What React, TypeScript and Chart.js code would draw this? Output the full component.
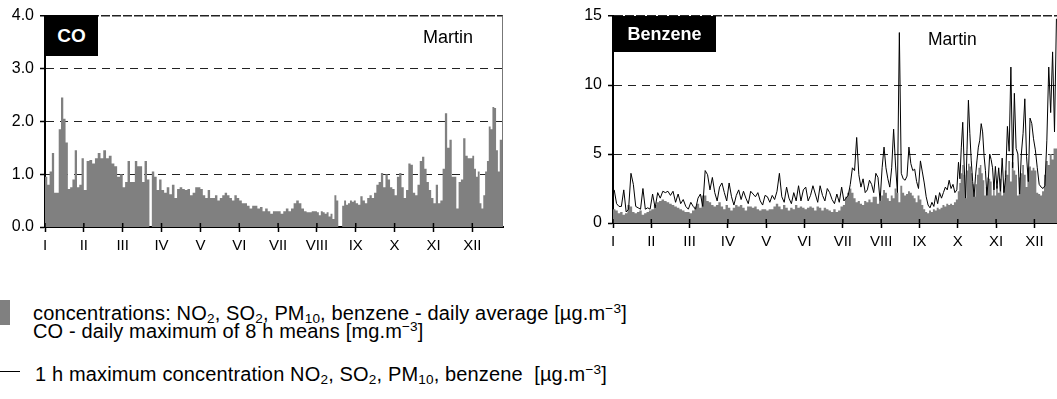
import React, { useEffect, useRef } from "react";
import { Chart, registerables } from "chart.js";

Chart.register(...registerables);

// ---------- data ----------
const MONTHS = ["I", "II", "III", "IV", "V", "VI", "VII", "VIII", "IX", "X", "XI", "XII"];

// CO - daily maximum of 8 h means [mg.m-3], values per month (0 = missing)
const CO_JAN = [1.25, 0.95, 0.8, 1.05, 1.4, 0.65, 0.65, 1.85, 2.45, 2.05, 1.6, 0.72, 0.75, 0.9, 1.45, 0.75, 0.8];
const CO_FEB = [1.3, 0.7, 1.25, 1.27, 1.2, 1.3, 1.4, 1.3, 1.45, 1.3, 1.35, 1.2, 1.15, 0.95];
const CO_MAR = [1.0, 0.75, 0.85, 1.25, 0.85, 0.85, 1.25, 1.15, 1.15, 0.85, 1.25, 0.9, 0, 1.05, 0.95, 0.7];
const CO_APR = [0.9, 0.7, 0.65, 0.75, 0.62, 0.8, 0.55, 0.72, 0.75, 0.72, 0.7, 0.72, 0.6, 0.65, 0.75];
const CO_MAY = [0.75, 0.72, 0.6, 0.55, 0.7, 0.55, 0.55, 0.6, 0.5, 0.55, 0.6, 0.65, 0.6, 0.55, 0.5, 0.6];
const CO_JUN = [0.55, 0.5, 0.45, 0.45, 0.4, 0.35, 0.4, 0.4, 0.35, 0.38, 0.3, 0.35, 0.3, 0.25, 0.3];
const CO_JUL = [0.3, 0.3, 0.25, 0.3, 0.35, 0.3, 0.35, 0.45, 0.5, 0.45, 0.35, 0.3, 0.28, 0.28, 0.3];
const CO_AUG = [0.3, 0.28, 0.22, 0.3, 0.28, 0.25, 0.28, 0.2, 0.25, 0.15, 0.6, 0.5, 0, 0, 0.4, 0.5, 0.42, 0.45, 0.5, 0.48];
const CO_SEP = [0.5, 0.45, 0.42, 0.58, 0.5, 0.45, 0.55, 0.6, 0.55, 0.65, 0.8, 0.85, 1.02, 0.75, 1.0, 0.9, 0.75];
const CO_OCT = [0.72, 0.6, 0.95, 1.02, 0.75, 0.55, 0.7, 1.2, 1.18, 0.65, 0.6, 0.8, 1.25, 1.33, 1.1, 0.85, 0.7];
const CO_NOV = [0.55, 0.45, 0.8, 0.45, 0.5, 1.1, 2.15, 1.5, 1.65, 0.95, 0.95, 0.35, 0.85, 0.9, 1.68, 1.35, 1.3];
const CO_DEC = [1.3, 1.35, 1.1, 0.95, 1.05, 0.45, 0.35, 0.6, 1.05, 1.25, 1.9, 1.85, 2.27, 2.25, 1.45, 1.05, 1.65];
const CO_MONTHS = [CO_JAN, CO_FEB, CO_MAR, CO_APR, CO_MAY, CO_JUN, CO_JUL, CO_AUG, CO_SEP, CO_OCT, CO_NOV, CO_DEC];

// Benzene - daily average [ug.m-3]
const BZ_AVG_JAN = [1.1, 1.0, 0.9, 0.7, 0.8, 0.6, 0.7, 1.3, 1.2, 0.8, 0.7, 0.8, 0.9, 0.6, 0.7, 0.8];
const BZ_AVG_FEB = [0.9, 1.0, 1.3, 1.5, 1.6, 1.7, 1.6, 1.5, 1.4, 1.3, 1.2, 1.1, 1.0, 0.9, 0.8];
const BZ_AVG_MAR = [0.8, 0.7, 0.9, 1.2, 1.4, 1.1, 2.0, 2.0, 1.6, 1.5, 1.3, 1.2, 1.3, 1.5, 1.2, 1.0];
const BZ_AVG_APR = [1.3, 1.1, 0.9, 1.1, 1.3, 1.2, 1.3, 1.1, 0.9, 1.2, 1.2, 1.1, 1.2, 1.0, 0.9, 1.0];
const BZ_AVG_MAY = [1.0, 0.9, 1.0, 1.0, 1.2, 1.4, 1.2, 1.0, 1.3, 1.1, 0.9, 1.1, 1.0, 1.3, 1.1, 1.2];
const BZ_AVG_JUN = [1.1, 1.0, 1.1, 1.2, 1.1, 0.9, 1.2, 1.1, 0.9, 1.1, 1.0, 0.9, 0.8, 1.0, 0.8, 0.9];
const BZ_AVG_JUL = [1.2, 1.3, 1.9, 2.2, 2.5, 2.2, 1.8, 1.5, 1.6, 1.4, 1.3, 1.6, 1.5, 1.7, 1.5, 1.9, 1.9, 1.4];
const BZ_AVG_AUG = [1.6, 2.0, 2.4, 2.2, 1.8, 1.6, 2.0, 1.8, 2.5, 2.2, 1.5, 2.7, 2.2, 2.0, 2.1, 2.3, 2.2, 2.0, 1.8, 1.5];
const BZ_AVG_SEP = [2.0, 1.7, 1.3, 1.0, 0.8, 0.7, 0.9, 0.8, 1.0, 0.9, 1.1, 1.0, 1.1, 1.3, 1.2, 1.4, 1.3, 1.4, 1.3, 1.5];
const BZ_AVG_OCT = [1.7, 2.3, 2.9, 3.6, 4.2, 3.5, 1.8, 3.8, 4.3, 4.1, 3.6, 2.8, 1.9, 2.8, 3.5, 4.0, 4.2, 3.6, 3.1, 2.0, 2.6, 3.3, 3.2, 3.0, 2.0, 3.0];
const BZ_AVG_NOV = [2.0, 2.7, 2.2, 3.2, 2.0, 2.7, 3.8, 3.5, 4.5, 3.0, 4.4, 3.8, 3.5, 2.0, 3.3, 3.6, 4.2, 3.5, 2.6, 4.0, 4.1, 3.8];
const BZ_AVG_DEC = [4.0, 3.8, 2.2, 2.1, 2.0, 2.3, 3.5, 4.5, 4.2, 5.0, 4.6, 5.4];
const BZ_AVG_MONTHS = [BZ_AVG_JAN, BZ_AVG_FEB, BZ_AVG_MAR, BZ_AVG_APR, BZ_AVG_MAY, BZ_AVG_JUN, BZ_AVG_JUL, BZ_AVG_AUG, BZ_AVG_SEP, BZ_AVG_OCT, BZ_AVG_NOV, BZ_AVG_DEC];

// Benzene - 1 h maximum concentration [ug.m-3]
const BZ_MAX_JAN = [2.4, 1.4, 1.2, 1.2, 2.4, 0.8, 1.0, 3.6, 2.8, 1.2, 1.1, 1.0, 2.5, 1.0, 1.1, 1.0];
const BZ_MAX_FEB = [2.1, 1.1, 2.2, 1.8, 2.3, 2.2, 2.3, 2.0, 2.3, 1.5, 2.1, 1.4, 1.7, 1.2, 1.0];
const BZ_MAX_MAR = [1.5, 1.2, 1.0, 1.8, 2.1, 1.2, 3.8, 3.5, 2.4, 3.3, 2.2, 1.6, 2.6, 2.9, 2.2, 1.6];
const BZ_MAX_APR = [2.9, 1.9, 1.3, 2.0, 2.4, 1.7, 2.3, 1.8, 1.4, 2.3, 2.1, 1.9, 2.2, 1.6, 1.3, 2.0];
const BZ_MAX_MAY = [1.9, 1.5, 2.0, 1.7, 2.3, 3.6, 1.9, 1.5, 2.6, 1.8, 1.4, 2.2, 1.6, 2.7, 1.6, 2.4];
const BZ_MAX_JUN = [2.6, 1.6, 2.0, 2.7, 2.1, 1.5, 2.7, 2.0, 1.6, 2.5, 2.2, 1.7, 1.4, 2.1, 1.5, 2.6];
const BZ_MAX_JUL = [1.6, 1.8, 2.0, 2.8, 4.0, 3.8, 6.2, 3.5, 2.6, 3.2, 2.2, 2.4, 3.1, 2.8, 2.2, 3.6, 3.3, 1.6];
const BZ_MAX_AUG = [4.0, 5.5, 4.0, 3.2, 2.6, 4.0, 6.8, 4.2, 2.2, 13.8, 3.6, 3.2, 3.1, 3.4, 5.5, 4.3, 3.8, 3.9, 3.0, 2.5];
const BZ_MAX_SEP = [4.5, 3.7, 2.9, 1.9, 1.3, 1.1, 1.5, 1.2, 2.0, 1.4, 2.2, 1.8, 2.2, 2.6, 2.4, 3.1, 2.5, 2.8, 2.2, 2.4];
const BZ_MAX_OCT = [4.4, 3.2, 5.5, 7.3, 4.2, 1.8, 5.3, 8.9, 6.5, 4.5, 3.0, 1.9, 3.4, 4.5, 5.5, 6.0, 7.2, 6.6, 4.9, 3.8, 2.0, 3.1, 5.0, 4.6, 4.0, 2.4, 4.1];
const BZ_MAX_NOV = [2.5, 4.0, 2.3, 4.7, 2.2, 3.3, 7.0, 5.2, 11.3, 4.0, 9.4, 5.4, 5.0, 2.1, 5.0, 6.5, 9.0, 4.8, 3.0, 7.6, 7.2, 6.1];
const BZ_MAX_DEC = [5.3, 4.0, 2.8, 2.6, 2.5, 2.7, 6.0, 11.3, 8.0, 12.4, 6.6, 14.8];
const BZ_MAX_MONTHS = [BZ_MAX_JAN, BZ_MAX_FEB, BZ_MAX_MAR, BZ_MAX_APR, BZ_MAX_MAY, BZ_MAX_JUN, BZ_MAX_JUL, BZ_MAX_AUG, BZ_MAX_SEP, BZ_MAX_OCT, BZ_MAX_NOV, BZ_MAX_DEC];

const CO_Y_TICKS = [0, 1, 2, 3, 4];
const BZ_Y_TICKS = [0, 5, 10, 15];

// visible extent of the time axis (in months from 1 Jan)
const CO_X_MAX = 11.79;
const BZ_X_MAX = 11.59;

// ---------- helpers ----------
const FONT = "'Liberation Sans', Arial, Helvetica, sans-serif";
const GREY = "#808080";

type Pt = { x: number; y: number };

function stepPoints(months: number[][], xMax: number): Pt[] {
  const pts: Pt[] = [];
  months.forEach((vals, m) => {
    const span = m === 11 ? xMax - 11 + 0.01 : 1;
    vals.forEach((v, i) => pts.push({ x: m + (i * span) / vals.length, y: v }));
  });
  const last = months[11];
  pts.push({ x: xMax + 0.01, y: last[last.length - 1] });
  return pts;
}

function linePoints(months: number[][], xMax: number): Pt[] {
  const pts: Pt[] = [];
  months.forEach((vals, m) => {
    const span = m === 11 ? xMax - 11 + 0.01 : 1;
    vals.forEach((v, i) => pts.push({ x: m + ((i + 0.5) * span) / vals.length, y: v }));
  });
  return pts;
}

const framePlugin = {
  id: "frame",
  afterDraw(chart: any, _args: any, opts: any) {
    const { ctx, chartArea } = chart;
    const { right, bottom, top } = chartArea;
    const xs = chart.scales.x;
    ctx.save();
    ctx.strokeStyle = "#000";
    ctx.lineWidth = 1.5;
    xs.ticks.forEach((t: any) => {
      const px = xs.getPixelForValue(t.value);
      ctx.beginPath();
      ctx.moveTo(px, bottom - 4);
      ctx.lineTo(px, bottom);
      ctx.stroke();
    });
    if (opts && opts.rightBorder) {
      ctx.strokeStyle = "#777";
      ctx.lineWidth = 1;
      ctx.beginPath();
      ctx.moveTo(right - 0.5, top);
      ctx.lineTo(right - 0.5, bottom);
      ctx.stroke();
    }
    ctx.restore();
  },
};

function makeOptions(p: {
  xMax: number;
  yMax: number;
  yTicks: number[];
  yFmt: (v: number) => string;
  yWidth: number;
  xHeight: number;
  padTop: number;
  padRight: number;
  rightBorder: boolean;
}): any {
  return {
    responsive: false,
    animation: false,
    events: [],
    layout: { padding: { top: p.padTop, right: p.padRight, left: 0, bottom: 0 } },
    plugins: {
      legend: { display: false },
      tooltip: { enabled: false },
      frame: { rightBorder: p.rightBorder },
    },
    scales: {
      x: {
        type: "linear",
        min: 0,
        max: p.xMax,
        afterBuildTicks: (s: any) => {
          s.ticks = MONTHS.map((_, i) => ({ value: i }));
        },
        afterFit: (s: any) => {
          s.height = p.xHeight;
        },
        ticks: {
          autoSkip: false,
          maxRotation: 0,
          callback: (v: number) => MONTHS[v] ?? "",
          color: "#000",
          font: { family: FONT, size: 15 },
          padding: 5,
        },
        grid: {
          drawOnChartArea: false,
          drawTicks: true,
          tickLength: 5,
          color: "#000",
          tickColor: "#000",
          tickWidth: 1.5,
        },
        border: { display: true, color: "#000", width: 2 },
      },
      y: {
        min: 0,
        max: p.yMax,
        afterBuildTicks: (s: any) => {
          s.ticks = p.yTicks.map((v) => ({ value: v }));
        },
        afterFit: (s: any) => {
          s.width = p.yWidth;
        },
        ticks: {
          callback: (v: number) => p.yFmt(v),
          color: "#000",
          font: { family: FONT, size: 16 },
          padding: 6,
        },
        grid: {
          color: (c: any) => (c.tick && c.tick.value === 0 ? "rgba(0,0,0,0)" : "#222"),
          lineWidth: (c: any) => (c.tick && c.tick.value === p.yMax ? 1.5 : 1),
          drawTicks: true,
          tickLength: 5,
          tickColor: "#000",
          tickWidth: 1.5,
          tickBorderDash: [],
        },
        border: {
          display: true,
          color: "#000",
          width: 2,
          dash: (c: any) => (c.tick && c.tick.value === p.yMax ? [9, 2] : [8, 6]),
        },
      },
    },
  };
}

const textBox: React.CSSProperties = {
  position: "absolute",
  background: "#000",
  color: "#fff",
  fontWeight: "bold",
  display: "flex",
  alignItems: "center",
  justifyContent: "center",
  fontFamily: FONT,
};

const sub: React.CSSProperties = { fontSize: "0.68em", verticalAlign: "-0.25em", lineHeight: 0 };
const sup: React.CSSProperties = { fontSize: "0.68em", verticalAlign: "0.55em", lineHeight: 0 };
const legendLine: React.CSSProperties = {
  position: "absolute",
  left: 33,
  fontSize: 20,
  lineHeight: "18px",
  letterSpacing: "0.15px",
  whiteSpace: "nowrap",
};

export default function App() {
  const coRef = useRef<HTMLCanvasElement>(null);
  const bzRef = useRef<HTMLCanvasElement>(null);

  useEffect(() => {
    const co = new Chart(coRef.current as HTMLCanvasElement, {
      type: "line",
      data: {
        datasets: [
          {
            data: stepPoints(CO_MONTHS, CO_X_MAX),
            stepped: "after",
            fill: "origin",
            backgroundColor: GREY,
            borderColor: GREY,
            borderWidth: 0,
            pointRadius: 0,
          } as any,
        ],
      },
      options: makeOptions({
        xMax: CO_X_MAX,
        yMax: 4,
        yTicks: CO_Y_TICKS,
        yFmt: (v) => v.toFixed(1),
        yWidth: 45,
        xHeight: 38,
        padTop: 15,
        padRight: 17,
        rightBorder: true,
      }),
      plugins: [framePlugin],
    });

    const bz = new Chart(bzRef.current as HTMLCanvasElement, {
      type: "line",
      data: {
        datasets: [
          {
            data: linePoints(BZ_MAX_MONTHS, BZ_X_MAX),
            borderColor: "#000",
            borderWidth: 1,
            pointRadius: 0,
            tension: 0,
            fill: false,
          } as any,
          {
            data: stepPoints(BZ_AVG_MONTHS, BZ_X_MAX),
            stepped: "after",
            fill: "origin",
            backgroundColor: GREY,
            borderColor: GREY,
            borderWidth: 0,
            pointRadius: 0,
          } as any,
        ],
      },
      options: makeOptions({
        xMax: BZ_X_MAX,
        yMax: 15,
        yTicks: BZ_Y_TICKS,
        yFmt: (v) => String(v),
        yWidth: 93,
        xHeight: 42,
        padTop: 16,
        padRight: 0,
        rightBorder: false,
      }),
      plugins: [framePlugin],
    });

    return () => {
      co.destroy();
      bz.destroy();
    };
  }, []);

  return (
    <div
      style={{
        position: "absolute",
        left: 0,
        top: 0,
        width: 1057,
        height: 399,
        overflow: "hidden",
        background: "#fff",
        fontFamily: FONT,
        color: "#000",
      }}
    >
      <canvas ref={coRef} width={520} height={265} style={{ position: "absolute", left: 0, top: 0 }} />
      <canvas ref={bzRef} width={537} height={265} style={{ position: "absolute", left: 520, top: 0 }} />

      <div style={{ ...textBox, left: 45, top: 15, width: 53, height: 41, fontSize: 19 }}>CO</div>
      <div style={{ position: "absolute", left: 423, top: 27, fontSize: 18, lineHeight: "20px" }}>Martin</div>

      <div style={{ ...textBox, left: 613, top: 16, width: 103, height: 36, fontSize: 18 }}>Benzene</div>
      <div style={{ position: "absolute", left: 928, top: 29, fontSize: 17.5, lineHeight: "20px" }}>Martin</div>

      <div style={{ position: "absolute", left: 0, top: 300, width: 10, height: 25, background: GREY }} />
      <div style={{ ...legendLine, top: 304 }}>
        concentrations: NO<span style={sub}>2</span>, SO<span style={sub}>2</span>, PM<span style={sub}>10</span>, benzene -
        daily average [µg.m<span style={sup}>−3</span>]
      </div>
      <div style={{ ...legendLine, top: 322 }}>
        CO - daily maximum of 8 h means [mg.m<span style={sup}>−3</span>]
      </div>

      <div style={{ position: "absolute", left: 0, top: 371, width: 20, height: 1, background: "#000" }} />
      <div style={{ ...legendLine, left: 35, top: 365 }}>
        1 h maximum concentration NO<span style={sub}>2</span>, SO<span style={sub}>2</span>, PM<span style={sub}>10</span>,
        benzene&nbsp; [µg.m<span style={sup}>−3</span>]
      </div>
    </div>
  );
}
